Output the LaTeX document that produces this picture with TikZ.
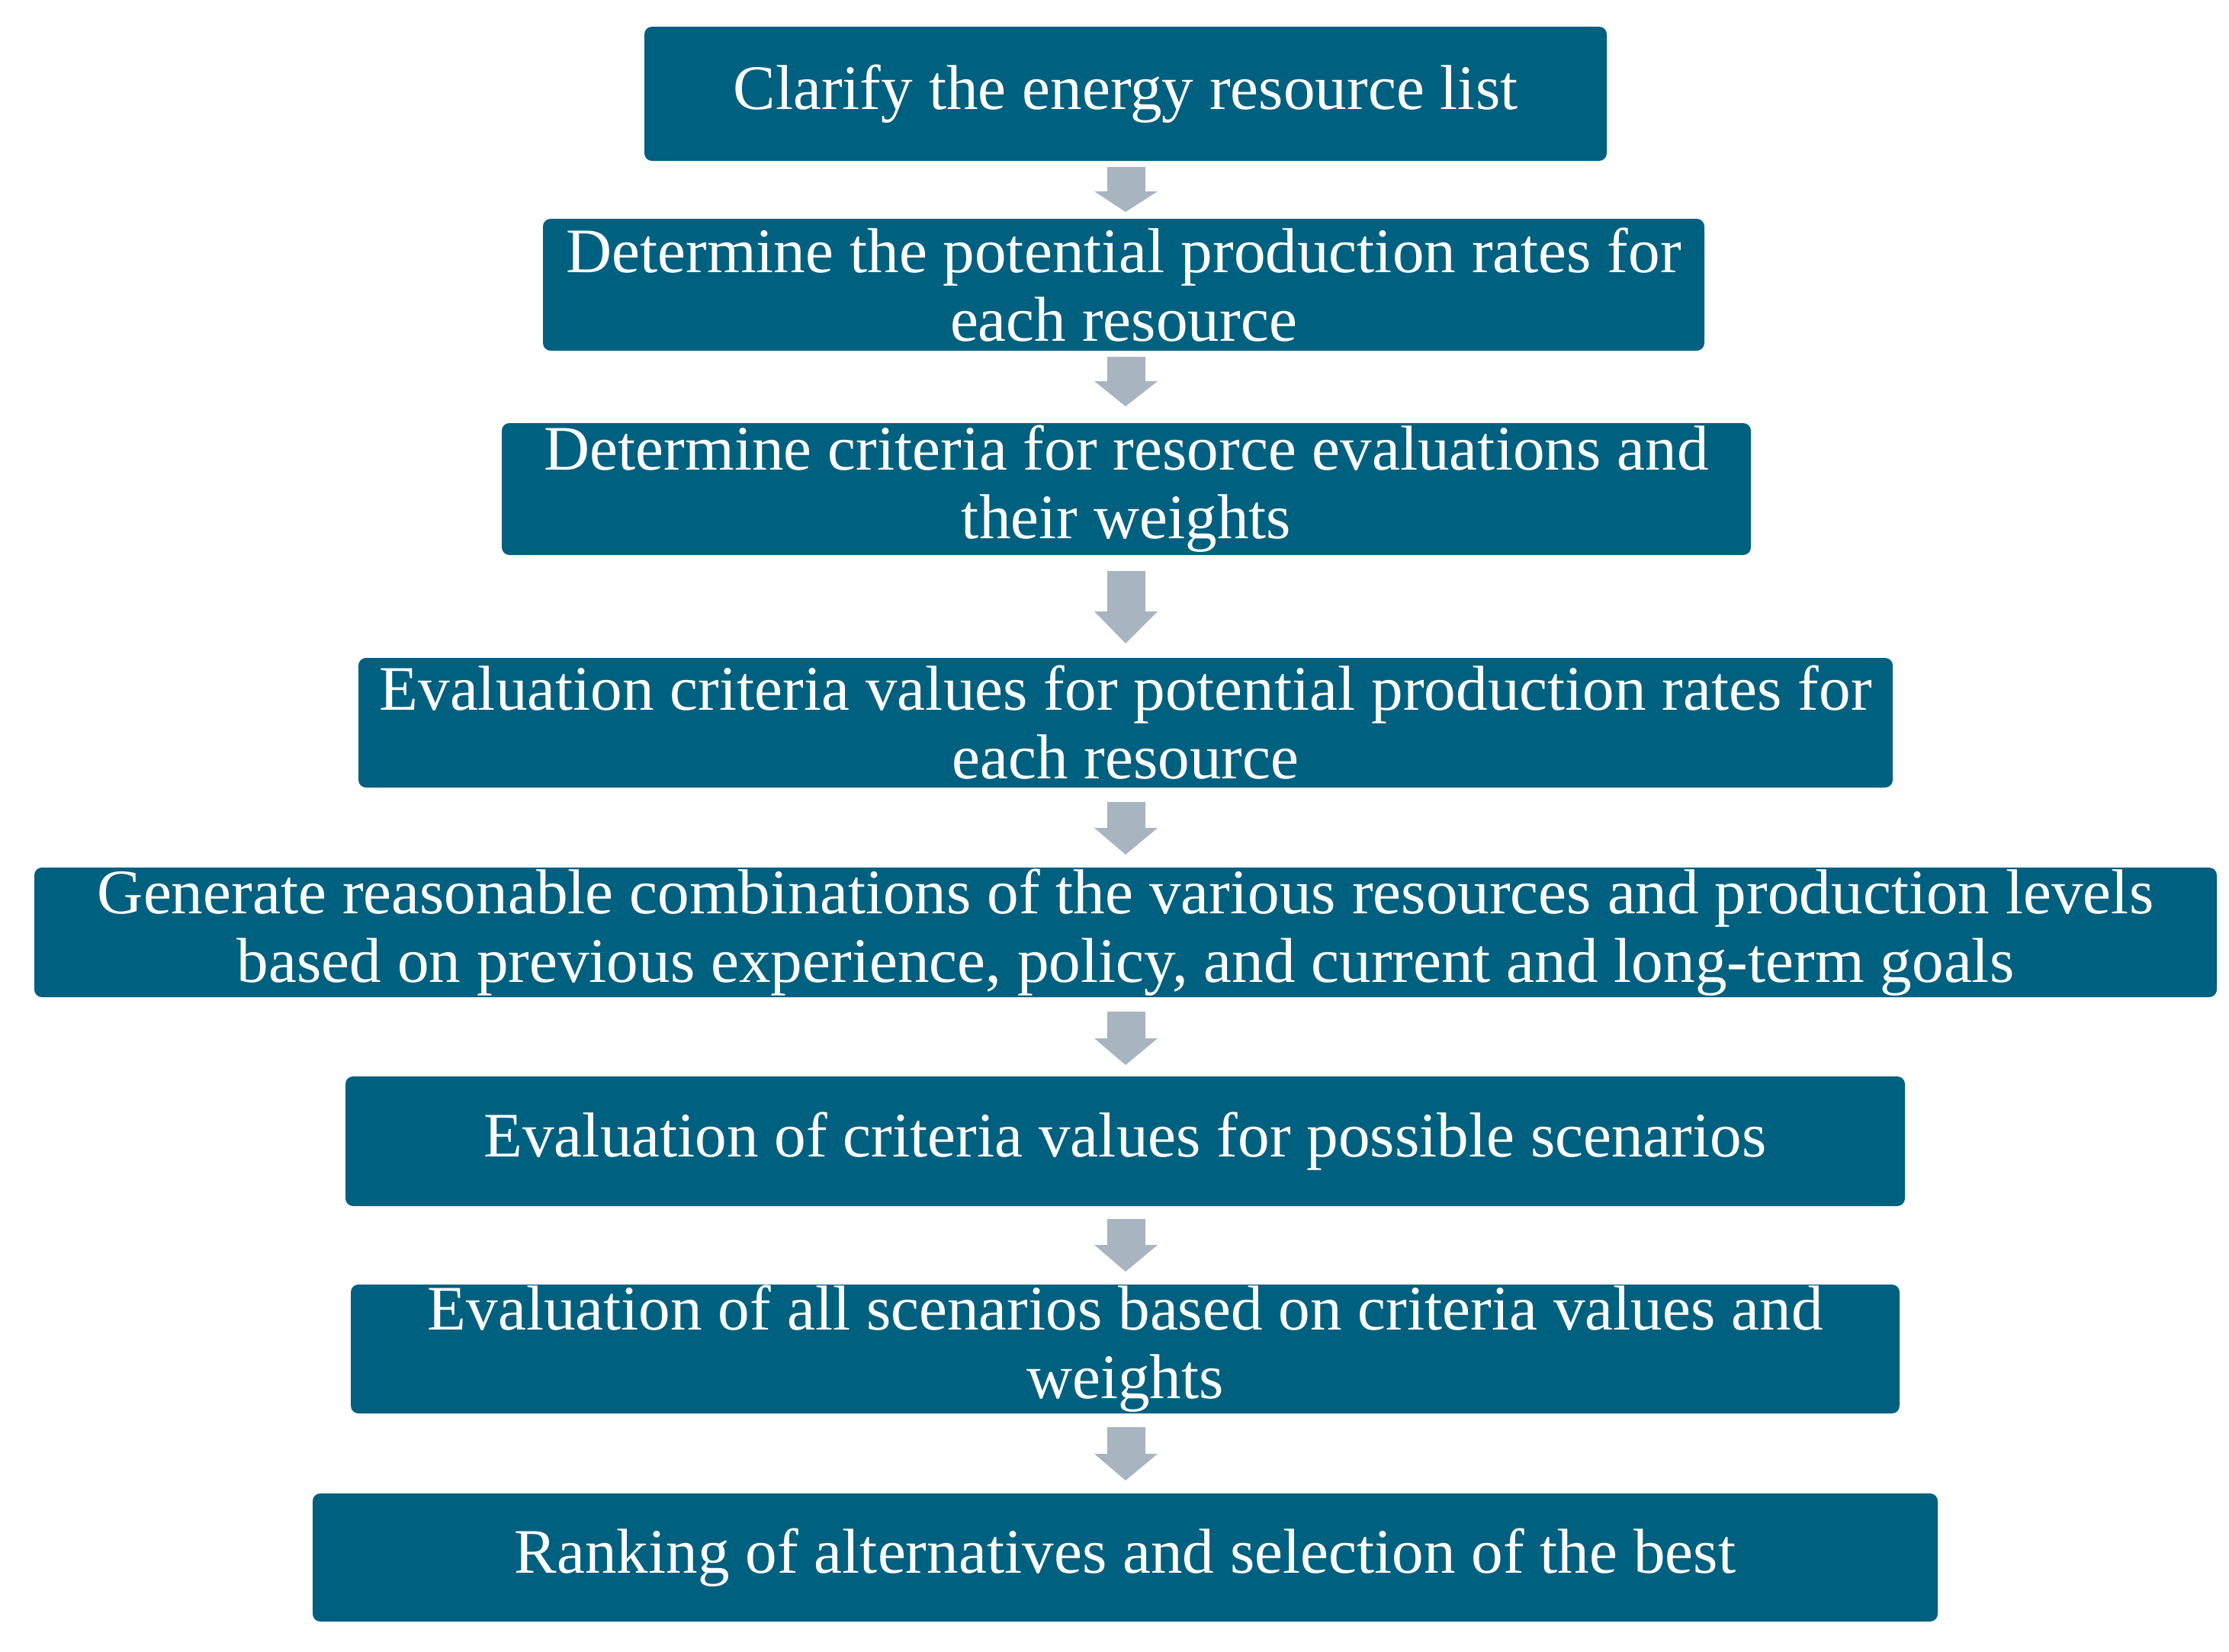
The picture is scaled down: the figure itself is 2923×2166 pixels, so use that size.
\documentclass[tikz,border=0pt]{standalone}
\usepackage{fontspec}
\setmainfont{Liberation Serif}
\definecolor{boxc}{HTML}{00607F}
\definecolor{arrc}{HTML}{A8B5C1}
\newcommand\blockarr[3]{\fill[arrc] (1452,#1) -- (1502,#1) -- (1502,#2) -- (1518,#2) -- (1476,#3) -- (1435,#2) -- (1452,#2) -- cycle;}
\begin{document}
\begin{tikzpicture}[x=0.25pt,y=-0.25pt,
 stepbox/.style={fill=boxc, rounded corners=2.5pt, inner sep=0pt, text=white, align=center, font=\fontsize{20.8}{22.5}\selectfont}]
\useasboundingbox (0,0) rectangle (2923,2166);
\node[stepbox, minimum width=315.5pt, minimum height=44pt] (b1) at (1476,123) {Clarify the energy resource list};
\node[stepbox, minimum width=380.75pt, minimum height=43.25pt] (b2) at (1473.5,373.5) {Determine the potential production rates for\\each resource};
\node[stepbox, minimum width=409.5pt, minimum height=43.25pt] (b3) at (1477,641.5) {Determine criteria for resorce evaluations and\\their weights};
\node[stepbox, minimum width=503pt, minimum height=42.5pt] (b4) at (1476,948) {Evaluation criteria values for potential production rates for\\each resource};
\node[stepbox, minimum width=715.5pt, minimum height=42.5pt] (b5) at (1476,1223) {Generate reasonable combinations of the various resources and production levels\\based on previous experience, policy, and current and long-term goals};
\node[stepbox, minimum width=511.25pt, minimum height=42.5pt] (b6) at (1475.5,1497) {Evaluation of criteria values for possible scenarios};
\node[stepbox, minimum width=507.75pt, minimum height=42.25pt] (b7) at (1475.5,1769.5) {Evaluation of all scenarios based on criteria values and\\weights};
\node[stepbox, minimum width=532.75pt, minimum height=42pt] (b8) at (1475.5,2043) {Ranking of alternatives and selection of the best};
\blockarr{219}{251}{278}
\blockarr{468}{500}{533}
\blockarr{749}{802}{844}
\blockarr{1052}{1086}{1121}
\blockarr{1327}{1362}{1397}
\blockarr{1599}{1633}{1668}
\blockarr{1872}{1907}{1942}
\end{tikzpicture}
\end{document}
